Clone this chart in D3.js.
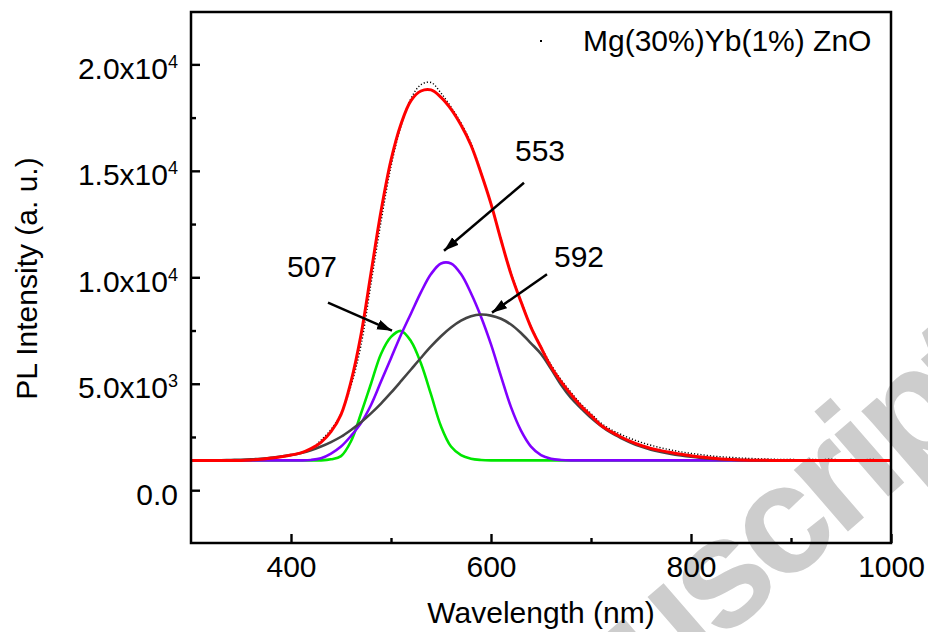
<!DOCTYPE html>
<html>
<head>
<meta charset="utf-8">
<script src="https://cdn.jsdelivr.net/npm/d3@7"></script>
<style>
  body { margin: 0; background: #fff; }
  svg { display: block; }
</style>
</head>
<body>
<svg id="chart" width="928" height="632"></svg>
<script>
// ---- data -------------------------------------------------------------
// sampling wavelengths (nm)
const wavelength = [300,310,320,330,340,350,360,370,380,390,
  400,410,420,430,440,450,460,470,480,490,
  500,510,520,530,540,550,560,570,580,590,
  600,610,620,630,640,650,660,670,680,690,
  700,710,720,730,740,750,760,770,780,790,
  800,810,820,830,840,850,860,870,880,890,
  900,910,920,930,940,950,960,970,980,990,1000];

// measured PL spectrum (a. u.)
const measured = [1420,1380,1410,1390,1420,1400,1430,1450,1500,1580,
  1640,1780,1950,2350,2850,3600,4900,6800,9700,12600,
  15200,17100,18400,19050,19150,18650,18000,17250,16300,14950,
  13450,11800,10200,8900,7700,6750,5900,5200,4600,4050,
  3600,3150,2850,2620,2420,2250,2110,1990,1890,1800,
  1730,1670,1610,1570,1540,1510,1490,1470,1460,1440,
  1450,1420,1450,1430,1460,1420,1440,1410,1450,1420,1430];

// cumulative fit
const fitTotal = [1400,1400,1400,1400,1400,1400,1420,1450,1510,1570,
  1650,1750,1950,2250,2750,3550,5100,7300,10200,13100,
  15500,17200,18300,18750,18800,18450,17900,17150,16200,14900,
  13450,11750,10150,8850,7650,6700,5800,5100,4500,3950,
  3500,3050,2750,2500,2280,2100,1960,1860,1770,1690,
  1620,1560,1510,1470,1440,1420,1410,1405,1400,1400,
  1400,1400,1400,1400,1400,1400,1400,1400,1400,1400,1400];

// fitted component peaked near 507 nm
const peak507 = [1400,1400,1400,1400,1400,1400,1400,1400,1400,1400,
  1400,1400,1400,1400,1450,1600,2300,3600,5000,6400,
  7200,7480,7000,5950,4500,3000,2050,1650,1480,1420,
  1400,1400,1400,1400,1400,1400,1400,1400,1400,1400,
  1400,1400,1400,1400,1400,1400,1400,1400,1400,1400,
  1400,1400,1400,1400,1400,1400,1400,1400,1400,1400,
  1400,1400,1400,1400,1400,1400,1400,1400,1400,1400,1400];

// fitted component peaked near 553 nm
const peak553 = [1400,1400,1400,1400,1400,1400,1400,1400,1400,1400,
  1400,1400,1420,1500,1720,2050,2550,3150,4000,5100,
  6200,7300,8300,9300,10150,10650,10650,10150,9250,8150,
  6850,5350,3900,2800,2050,1650,1480,1420,1400,1400,
  1400,1400,1400,1400,1400,1400,1400,1400,1400,1400,
  1400,1400,1400,1400,1400,1400,1400,1400,1400,1400,
  1400,1400,1400,1400,1400,1400,1400,1400,1400,1400,1400];

// fitted component peaked near 592 nm
const peak592 = [1400,1400,1405,1410,1420,1430,1450,1480,1520,1580,
  1650,1750,1880,2050,2260,2510,2830,3190,3610,4070,
  4580,5120,5670,6220,6750,7230,7640,7960,8170,8250,
  8200,8050,7780,7380,6900,6400,5700,4950,4330,3850,
  3400,3020,2700,2450,2230,2050,1900,1790,1700,1630,
  1570,1520,1480,1450,1430,1420,1410,1400,1400,1400,
  1400,1400,1400,1400,1400,1400,1400,1400,1400,1400,1400];

// axis ticks
const xTicks = [400, 600, 800, 1000];
const xMinorTicks = [500, 700, 900];
const yTicks = [0, 5000, 10000, 15000, 20000];
const yTickMantissa = ["0.0", "5.0x10", "1.0x10", "1.5x10", "2.0x10"];
const yTickExponent = ["", "3", "4", "4", "4"];
const yMinorTicks = [2500, 7500, 12500, 17500];

// peak annotations: label, label anchor, arrow tail and tip (nm, a. u.)
const annLabel = ["507", "553", "592"];
const annLabelWl = [421, 649, 688];
const annLabelVal = [10030, 15480, 10500];
const annTailWl = [437, 633, 656];
const annTailVal = [8810, 14440, 10140];
const annTipWl = [501, 553, 601];
const annTipVal = [7490, 11250, 8340];

const legendText = "Mg(30%)Yb(1%) ZnO";

// ---- layout -----------------------------------------------------------
const FONT = "'Liberation Sans', Arial, Helvetica, sans-serif";
const plot = { left: 191, right: 891, top: 12, bottom: 543 };

const svg = d3.select("#chart");
const x = d3.scaleLinear().domain([300, 1000]).range([plot.left, plot.right]);
const y = d3.scaleLinear().domain([-2480, 22460]).range([plot.bottom, plot.top]);

// watermark behind the chart
svg.append("text")
  .attr("transform", "translate(1007,393) rotate(-41)")
  .attr("text-anchor", "end")
  .attr("font-family", FONT)
  .attr("font-weight", "bold")
  .attr("font-size", 155)
  .attr("letter-spacing", -7)
  .attr("fill", "#cdcdcd")
  .text("Accepted Manuscript");

svg.append("defs").append("clipPath").attr("id", "plotClip")
  .append("rect")
  .attr("x", plot.left).attr("y", plot.top)
  .attr("width", plot.right - plot.left).attr("height", plot.bottom - plot.top);

const line = d3.line()
  .x((d, i) => x(wavelength[i]))
  .y(d => y(d))
  .curve(d3.curveCatmullRom.alpha(0.5));

const curves = svg.append("g").attr("clip-path", "url(#plotClip)").attr("fill", "none");

// measured spectrum as a dotted trace
curves.append("path")
  .attr("d", line(measured))
  .attr("stroke", "#000")
  .attr("stroke-width", 1.4)
  .attr("stroke-dasharray", "1.2,2");

const components = [
  { values: peak507, color: "#00e600" },
  { values: peak553, color: "#8000ff" },
  { values: peak592, color: "#444444" }
];
components.forEach(c => {
  curves.append("path")
    .attr("d", line(c.values))
    .attr("stroke", c.color)
    .attr("stroke-width", 2.6);
});

curves.append("path")
  .attr("d", line(fitTotal))
  .attr("stroke", "#ff0000")
  .attr("stroke-width", 3);

// ---- axes -------------------------------------------------------------
function styleAxis(g) {
  g.select(".domain").remove();
  g.selectAll(".tick line").attr("stroke", "#000").attr("stroke-width", 2.4);
  g.attr("font-family", FONT).attr("font-size", 30);
}

const gx = svg.append("g")
  .attr("transform", `translate(0,${plot.bottom})`)
  .call(d3.axisBottom(x).tickValues(xTicks).tickSizeInner(-9).tickSizeOuter(0)
    .tickPadding(13).tickFormat(d3.format("d")));
styleAxis(gx);
gx.selectAll(".tick text").attr("fill", "#000");

const gxm = svg.append("g")
  .attr("transform", `translate(0,${plot.bottom})`)
  .call(d3.axisBottom(x).tickValues(xMinorTicks).tickSizeInner(-5).tickSizeOuter(0).tickFormat(() => ""));
styleAxis(gxm);

const gy = svg.append("g")
  .attr("transform", `translate(${plot.left},0)`)
  .call(d3.axisLeft(y).tickValues(yTicks).tickSizeInner(-9).tickSizeOuter(0).tickPadding(13).tickFormat(() => ""));
styleAxis(gy);
gy.selectAll(".tick text").each(function (d, i) {
  const t = d3.select(this).attr("dy", 14).attr("fill", "#000");
  t.text(null);
  t.append("tspan").text(yTickMantissa[i]);
  if (yTickExponent[i]) {
    t.append("tspan").attr("font-size", 18).attr("dy", -11).text(yTickExponent[i]);
  }
});

const gym = svg.append("g")
  .attr("transform", `translate(${plot.left},0)`)
  .call(d3.axisLeft(y).tickValues(yMinorTicks).tickSizeInner(-5).tickSizeOuter(0).tickFormat(() => ""));
styleAxis(gym);

// frame
svg.append("rect")
  .attr("x", plot.left).attr("y", plot.top)
  .attr("width", plot.right - plot.left).attr("height", plot.bottom - plot.top)
  .attr("fill", "none").attr("stroke", "#000").attr("stroke-width", 2.5);

// axis titles
svg.append("text")
  .attr("x", (plot.left + plot.right) / 2).attr("y", 623)
  .attr("text-anchor", "middle")
  .attr("font-family", FONT).attr("font-size", 30).attr("fill", "#000")
  .text("Wavelength (nm)");

svg.append("text")
  .attr("transform", `translate(37,${(plot.top + plot.bottom) / 2 + 1}) rotate(-90)`)
  .attr("text-anchor", "middle")
  .attr("font-family", FONT).attr("font-size", 30).attr("fill", "#000")
  .text("PL Intensity (a. u.)");

// ---- peak annotations ----------------------------------------------------
svg.select("defs").append("marker")
  .attr("id", "arrowHead")
  .attr("viewBox", "0 -6 16 12")
  .attr("refX", 15).attr("refY", 0)
  .attr("markerWidth", 16).attr("markerHeight", 12)
  .attr("markerUnits", "userSpaceOnUse")
  .attr("orient", "auto")
  .append("path")
  .attr("d", "M0,-5L15,0L0,5Z")
  .attr("fill", "#000");

annLabel.forEach((lab, i) => {
  svg.append("line")
    .attr("x1", x(annTailWl[i])).attr("y1", y(annTailVal[i]))
    .attr("x2", x(annTipWl[i])).attr("y2", y(annTipVal[i]))
    .attr("stroke", "#000").attr("stroke-width", 2.5)
    .attr("marker-end", "url(#arrowHead)");
  svg.append("text")
    .attr("x", x(annLabelWl[i])).attr("y", y(annLabelVal[i]))
    .attr("text-anchor", "middle")
    .attr("font-family", FONT).attr("font-size", 30).attr("fill", "#000")
    .text(lab);
});

// ---- legend ------------------------------------------------------------
svg.append("rect")
  .attr("x", 540).attr("y", 40).attr("width", 2).attr("height", 2)
  .attr("fill", "#000");
svg.append("text")
  .attr("x", 583).attr("y", 51)
  .attr("font-family", FONT).attr("font-size", 30).attr("fill", "#000")
  .text(legendText);
</script>
</body>
</html>
